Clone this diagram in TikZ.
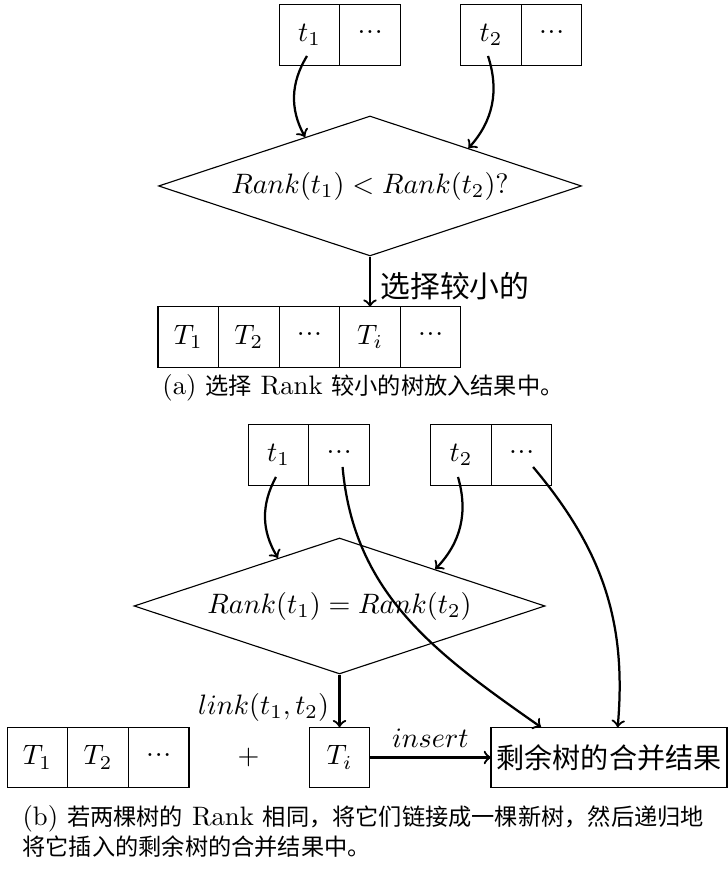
\documentclass[tikz,border=0pt]{standalone}
\usepackage{fontspec}
\newfontfamily\cjk{Noto Sans CJK SC}[Scale=0.87]
\newcommand{\middots}{\raisebox{1.95pt}{.\kern0.3pt.\kern0.3pt.}}
\usetikzlibrary{positioning, shapes.geometric, calc}

\begin{document}
\begin{tikzpicture}[
  x=0.01251cm, y=0.01251cm,
  cell/.style={draw, minimum width=0.758cm, minimum height=0.757cm, inner sep=0pt, outer sep=0pt},
  decide/.style={draw, diamond, aspect=3, inner sep=0pt},
  resbox/.style={draw, minimum width=2.952cm, minimum height=0.757cm, inner sep=0pt, outer sep=0pt, font=\fontsize{11.5}{13}\selectfont\cjk},
  arr/.style={->, thick},
  lbl/.style={font=\fontsize{12.2}{14}\selectfont\cjk},
  captext/.style={font=\fontsize{9.5}{10.7}\selectfont, inner sep=0pt}
]
\useasboundingbox (0,0) rectangle (727,876);

% (a) compare the two ranks
\node[cell] (a1) at (309.5,841) {$t_1$};
\node[cell, right=0pt of a1] (a2) {\middots};
\node[cell] (a3) at (491,841) {$t_2$};
\node[cell, right=0pt of a3] (a4) {\middots};
\node[decide, minimum width=5.292cm, minimum height=1.751cm] (dA) at (370,690) {$Rank(t_1) < Rank(t_2)?$};
\node[cell] (c4) at (370,539) {$T_i$};
\node[cell, left=0pt of c4] (c3) {\middots};
\node[cell, left=0pt of c3] (c2) {$T_2$};
\node[cell, left=0pt of c2] (c1) {$T_1$};
\node[cell, right=0pt of c4] (c5) {\middots};
\node[captext] (capA) at (363,488) {(a) {\cjk 选择} Rank {\cjk 较小的树放入结果中。}};

\draw[arr] ($(a1.center)+(-2.5,-21)$) to[bend right=30] (dA.143);
\draw[arr] ($(a3.center)+(-3,-21)$) to[bend left=30] (dA.21);
\draw[arr] (dA.south) -- node[lbl, right, pos=0.59] {选择较小的} (c4.north);

% (b) equal ranks: link, then insert
\node[cell] (b1) at (278.5,421) {$t_1$};
\node[cell, right=0pt of b1] (b2) {\middots};
\node[cell] (b3) at (461,421) {$t_2$};
\node[cell, right=0pt of b3] (b4) {\middots};
\node[decide, minimum width=5.142cm, minimum height=1.701cm] (dB) at (339.5,270) {$Rank(t_1) = Rank(t_2)$};
\node[cell] (e1) at (37.5,118.5) {$T_1$};
\node[cell, right=0pt of e1] (e2) {$T_2$};
\node[cell, right=0pt of e2] (e3) {\middots};
\node (plus) at (248.5,118.5) {$+$};
\node[cell] (e4) at (339.5,118.5) {$T_i$};
\node[resbox] (res) at (609,118.5) {剩余树的合并结果};
\node[captext, anchor=north west, align=left] (capB) at (22,71)
  {(b) {\cjk 若两棵树的} Rank {\cjk 相同，将它们链接成一棵新树，然后递归地}\\{\cjk 将它插入的剩余树的合并结果中。}};

\draw[arr] ($(b1.center)+(-2.5,-22)$) to[bend right=30] (dB.142);
\draw[arr] ($(b3.center)+(-3,-22)$) to[bend left=30] (dB.21);
\draw[arr] ($(b2.center)+(3.5,-12)$) to[out=-85, in=145] (res.156);
\draw[arr] ($(b4.center)+(11.5,-12)$) to[out=-50, in=85] (res.74);
\draw[arr] (dB.south) -- node[left, pos=0.62] {$link(t_1,t_2)$} (e4.north);
\draw[arr] (e4) -- node[above] {$insert$} (res);
\end{tikzpicture}
\end{document}
